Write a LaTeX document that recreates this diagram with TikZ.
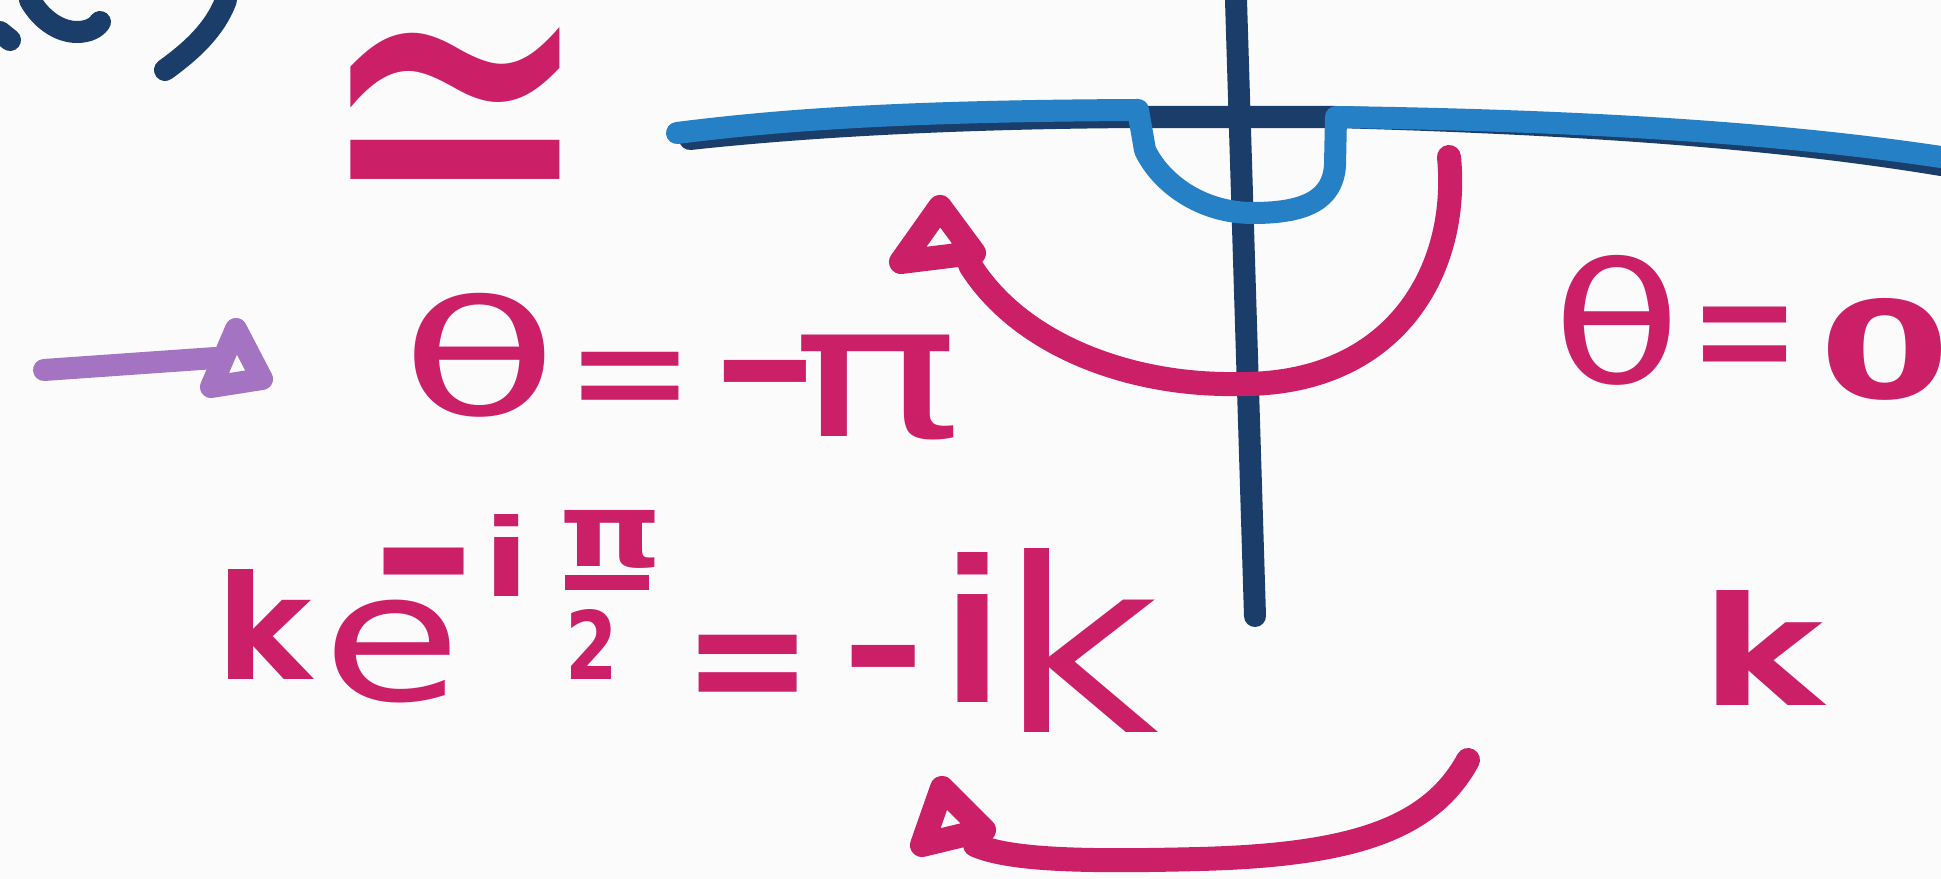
\documentclass[tikz,border=0pt]{standalone}
\usepackage{fontspec}
\usepackage{graphicx}
\newfontfamily\hand{DejaVu Sans}
\definecolor{hpink}{HTML}{CB1F68}
\definecolor{hblue}{HTML}{2580C6}
\definecolor{hnavy}{HTML}{1B3D6A}
\definecolor{hpurple}{HTML}{A474C2}
\definecolor{paper}{HTML}{FCFBFC}
\newlength\un \setlength\un{0.01cm}
\newdimen\gL \newdimen\gT \newdimen\gR \newdimen\gB \newcount\gid
% box holding exactly the ink of one glyph
\newcommand\ink[1]{\begingroup
  \setbox0=\hbox{#1}%
  \gid=\XeTeXcharglyph`#1\relax
  \gL=\XeTeXglyphbounds1 \gid
  \gT=\XeTeXglyphbounds2 \gid
  \gR=\XeTeXglyphbounds3 \gid
  \gB=\XeTeXglyphbounds4 \gid
  \setbox2=\hbox{\kern-\gL\unhcopy0\kern-\gR}%
  \setbox2=\hbox{\raise\gB\box2}%
  \ht2=\dimexpr\gT+\gB\relax \dp2=0pt
  \box2\endgroup}
% glyph placed with its ink in box (x,y,w,h), y downwards from node origin; optional weight
\newcommand\gl[6][\mdseries]{\makebox[0pt][l]{#1\hspace*{#2\un}\raisebox{\dimexpr-#3\un-#5\un\relax}{\resizebox*{#4\un}{#5\un}{\ink{#6}}}}}
\newcommand\glr[4]{\makebox[0pt][l]{\hspace*{#1\un}\raisebox{\dimexpr-#2\un-#4\un\relax}{\rule{#3\un}{#4\un}}}}
\tikzset{
  txt/.style={inner sep=0pt, outer sep=0pt, anchor=base west, text=hpink,
    font=\hand\fontsize{20}{24}\selectfont},
  pk/.style={draw=hpink, line width=0.24cm, line cap=round, line join=round},
  nv/.style={draw=hnavy, line width=0.22cm, line cap=round, line join=round},
  bl/.style={draw=hblue, line width=0.22cm, line cap=round, line join=round},
  pu/.style={draw=hpurple, line width=0.22cm, line cap=round, line join=round},
}
\begin{document}
\begin{tikzpicture}[x=0.01cm, y=-0.01cm]
\fill[paper] (0,0) rectangle (1941,879);
\useasboundingbox (0,0) rectangle (1941,879);

% partial "(c)" label at the top left
\draw[nv] (0,32) -- (10,40);
\draw[nv] (30,0) .. controls (40,18) and (58,32) .. (77,32) .. controls (88,32) and (96,28) .. (100,22);
\draw[nv] (165,70) .. controls (190,52) and (215,30) .. (226,0);

% axes
\coordinate (vtop) at (1236,0);
\coordinate (vbot) at (1255,616);
\draw[nv] (vtop) -- (vbot);
\coordinate (hl) at (690,139);
\coordinate (hr) at (1941,165);
\draw[nv] (hl) .. controls (800,127) and (950,118) .. (1140,117) -- (1335,117) .. controls (1550,123) and (1760,135) .. (hr);

% contour with indentation
\coordinate (cl) at (677,133);
\coordinate (cr) at (1941,157);
\draw[bl] (cl) .. controls (780,120) and (900,111) .. (1138,110) -- (1145,150)
  .. controls (1160,182) and (1200,213) .. (1253,213)
  .. controls (1305,213) and (1333,200) .. (1335,165) -- (1336,117)
  .. controls (1550,120) and (1760,130) .. (cr);

% upper pink arrow
\coordinate (ua0) at (1449,157);
\coordinate (ua1) at (970,265);
\draw[pk] (ua0) .. controls (1460,270) and (1395,386) .. (1238,384)
  .. controls (1130,386) and (1020,345) .. (ua1);
\draw[pk] (940,207) -- (901,262) -- (974,253) -- cycle;

% lower pink arrow
\coordinate (la0) at (1468,760);
\coordinate (la1) at (975,845);
\draw[pk] (la0) .. controls (1430,830) and (1350,855) .. (1200,859)
  .. controls (1080,862) and (1010,860) .. (la1);
\draw[pk] (942,788) -- (922,845) -- (984,830) -- cycle;

% purple arrow
\coordinate (pa0) at (44,370);
\coordinate (pa1) at (215,358);
\draw[pu] (pa0) -- (pa1);
\draw[pu] (236,329) -- (211,387) -- (262,379) -- cycle;

% texts
\node[txt] (simeq) at (349,27) {\gl{0}{0}{209}{152}{≃}};
\node[txt] (thpi) at (413,293) {\gl{0}{0}{130}{124}{θ}\gl{167}{59}{97}{48}{=}\gl{310}{67}{82}{22}{−}\gl{387}{42}{152}{105}{π}};
\node[txt] (thzero) at (1562,255) {\gl{0}{0}{106}{130}{θ}\gl{140}{52}{83}{55}{=}\gl[\bfseries]{265}{43}{113}{102}{0}};
\node[txt] (kexp) at (227,510) {\gl[\bfseries]{0}{60}{86}{110}{k}\gl{106}{90}{115}{103}{e}\gl{155}{38}{80}{27}{−}\gl{266}{5}{24}{82}{i}\gl[\bfseries]{336}{0}{90}{58}{π}\glr{336}{65}{84}{15}\gl[\bfseries]{343}{100}{40}{70}{2}\gl[\bfseries]{470}{125}{98}{57}{=}\gl{623}{135}{63}{22}{−}\gl{729}{42}{30}{150}{i}\gl{796}{38}{134}{184}{k}};
\node[txt] (kright) at (1715,590) {\gl[\bfseries]{0}{0}{110}{115}{k}};
\end{tikzpicture}
\end{document}
